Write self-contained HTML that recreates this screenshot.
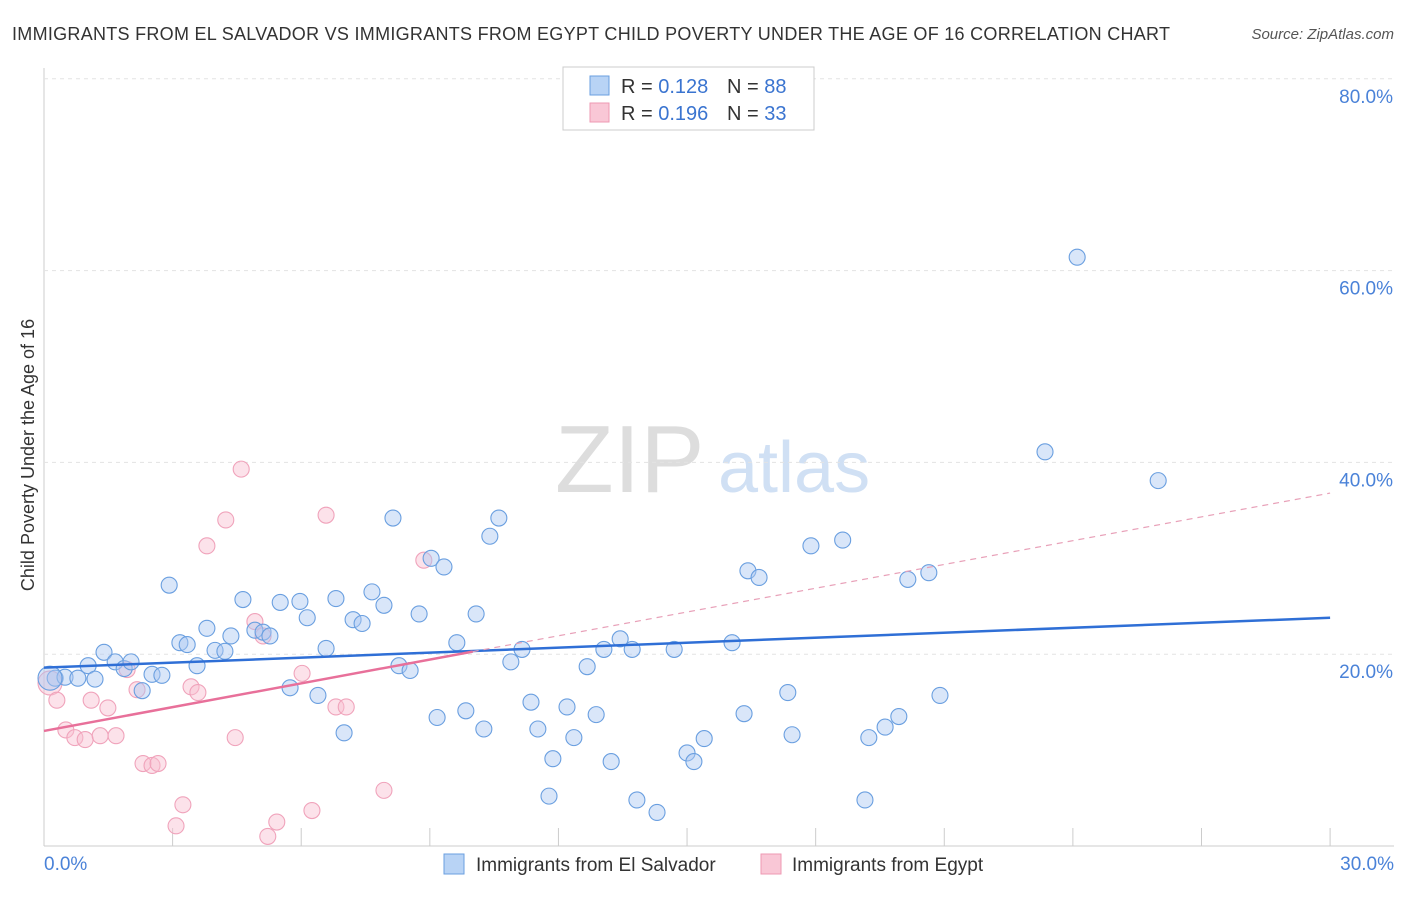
<!DOCTYPE html>
<html><head><meta charset="utf-8"><style>
body{margin:0;background:#fff;font-family:"Liberation Sans",sans-serif;}
svg text{font-family:"Liberation Sans",sans-serif;}
</style></head><body>
<svg id="c" width="1406" height="892" xmlns="http://www.w3.org/2000/svg">
<text x="12" y="40" font-size="18" fill="#333" textLength="1158" lengthAdjust="spacing">IMMIGRANTS FROM EL SALVADOR VS IMMIGRANTS FROM EGYPT CHILD POVERTY UNDER THE AGE OF 16 CORRELATION CHART</text>
<text x="1394" y="39" font-size="15" fill="#555" font-style="italic" text-anchor="end">Source: ZipAtlas.com</text>
<text x="34" y="455" font-size="18" fill="#333" transform="rotate(-90 34 455)" text-anchor="middle">Child Poverty Under the Age of 16</text>
<text x="555" y="492" font-size="96" fill="#ddd" font-family="Liberation Serif">ZIP</text>
<text x="718" y="492" font-size="72" fill="#d0e0f4">atlas</text>
<g id="grid"></g><g id="marks"></g>
<g>
<rect x="563" y="67" width="251" height="63" fill="#fff" stroke="#ccc"/>
<rect x="590" y="76" width="19" height="19" fill="#b8d3f5" stroke="#6a9fe0"/>
<rect x="590" y="103" width="19" height="19" fill="#f9c7d6" stroke="#ee99b3"/>
<text x="621" y="93" font-size="20" fill="#333">R = <tspan fill="#3a74d0">0.128</tspan></text>
<text x="727" y="93" font-size="20" fill="#333">N = <tspan fill="#3a74d0">88</tspan></text>
<text x="621" y="120" font-size="20" fill="#333">R = <tspan fill="#3a74d0">0.196</tspan></text>
<text x="727" y="120" font-size="20" fill="#333">N = <tspan fill="#3a74d0">33</tspan></text>
</g>
<g>
<rect x="444" y="854" width="20" height="20" fill="#b8d3f5" stroke="#6a9fe0"/>
<text x="476" y="871" font-size="19" fill="#333">Immigrants from El Salvador</text>
<rect x="761" y="854" width="20" height="20" fill="#f9c7d6" stroke="#ee99b3"/>
<text x="792" y="871" font-size="19" fill="#333">Immigrants from Egypt</text>
</g>
</svg>
<script>
const yTicks=[20,40,60,80];
const xTickLabels=["0.0%","30.0%"];
const blueX=[0.26,0.49,0.79,1.03,1.19,1.40,1.66,1.87,2.03,2.29,2.52,2.75,2.92,3.17,3.34,3.57,3.80,3.99,4.22,4.36,4.64,4.92,5.11,5.27,5.51,5.74,5.97,6.14,6.39,6.58,6.81,7.00,7.21,7.42,7.65,7.93,8.14,8.28,8.54,8.75,9.03,9.17,9.33,9.63,9.84,10.08,10.26,10.40,10.61,10.89,11.15,11.36,11.52,11.78,11.87,12.20,12.36,12.67,12.88,13.06,13.23,13.44,13.72,13.83,14.30,14.70,15.00,15.16,15.40,16.05,16.33,16.42,16.68,17.35,17.45,17.89,18.63,19.24,19.15,19.62,19.94,20.15,20.64,20.90,23.35,24.10,25.99,0.14];
const blueY=[17.5,17.6,17.5,18.8,17.4,20.2,19.2,18.5,19.2,16.2,17.9,17.8,27.2,21.2,21.0,18.8,22.7,20.4,20.3,21.9,25.7,22.5,22.3,21.9,25.4,16.5,25.5,23.8,15.7,20.6,25.8,11.8,23.6,23.2,26.5,25.1,34.2,18.8,18.3,24.2,30.0,13.4,29.1,21.2,14.1,24.2,12.2,32.3,34.2,19.2,20.5,15.0,12.2,5.2,9.1,14.5,11.3,18.7,13.7,20.5,8.8,21.6,20.5,4.8,3.5,20.5,9.7,8.8,11.2,21.2,13.8,28.7,28.0,16.0,11.6,31.3,31.9,11.3,4.8,12.4,13.5,27.8,28.5,15.7,41.1,61.4,38.1,17.5];
const pinkX=[0.14,0.30,0.51,0.72,0.96,1.10,1.31,1.49,1.68,1.94,2.17,2.31,2.52,2.66,3.08,3.24,3.43,3.59,3.80,4.24,4.46,4.60,4.92,5.11,5.22,5.43,6.02,6.25,6.58,6.81,7.05,7.93,8.86];
const pinkY=[17.0,15.2,12.1,11.3,11.1,15.2,11.5,14.4,11.5,18.4,16.3,8.6,8.4,8.6,2.1,4.3,16.6,16.0,31.3,34.0,11.3,39.3,23.4,21.9,1.0,2.5,18.0,3.7,34.5,14.5,14.5,5.8,29.8];
const blueFit=[18.6,23.8];
const pinkFit=[12.0,36.8];
const px=v=>44+v*42.87, py=v=>846-v*9.59;
const NS="http://www.w3.org/2000/svg";
function mk(t,a,p){const e=document.createElementNS(NS,t);for(const k in a)e.setAttribute(k,a[k]);p.appendChild(e);return e;}
const g=document.getElementById('grid'), m=document.getElementById('marks');
let ax=mk('line',{x1:44,y1:846,x2:1394,y2:846,stroke:'#ccc'},g);


let ay=mk('line',{x1:44,y1:68,x2:44,y2:846,stroke:'#ccc'},g);


for(let i=0;i<=10;i++){let t=mk('line',{x1:px(i*3),y1:828,x2:px(i*3),y2:846,stroke:'#ccc'},g);

}
yTicks.forEach(v=>{let l=mk('line',{x1:44,y1:py(v),x2:1394,y2:py(v),stroke:'#e3e3e3','stroke-dasharray':'4 4'},g);


let t=mk('text',{x:1393,y:py(v)+24,'font-size':19,fill:'#4a82d8','text-anchor':'end'},g);t.textContent=v.toFixed(1)+'%';

});
let xl=mk('text',{x:44,y:870,'font-size':19,fill:'#4a82d8'},g);xl.textContent=xTickLabels[0];


let xr=mk('text',{x:1394,y:870,'font-size':19,fill:'#4a82d8','text-anchor':'end'},g);xr.textContent=xTickLabels[1];


function pts(X,Y,fill,stroke,name){X.forEach((x,i)=>{const big=i===X.length-1&&name==='blue-point'||i===0&&name==='pink-point';
let c=mk('circle',{cx:px(x),cy:py(Y[i]),r:big?12:8,fill:fill,stroke:stroke,'stroke-width':1.1},m);

});}
pts(pinkX,pinkY,'rgba(249,190,208,0.45)','#f0a3bb','pink-point');
pts(blueX,blueY,'rgba(170,200,242,0.45)','#6a9fe0','blue-point');
let bl=mk('line',{x1:px(0),y1:py(blueFit[0]),x2:px(30),y2:py(blueFit[1]),stroke:'#2f6fd6','stroke-width':2.5},m);


const pAt=x=>pinkFit[0]+(pinkFit[1]-pinkFit[0])*x/30;
let pl=mk('line',{x1:px(0),y1:py(pAt(0)),x2:px(10),y2:py(pAt(10)),stroke:'#e8709a','stroke-width':2.5},m);


let pd=mk('line',{x1:px(10),y1:py(pAt(10)),x2:px(30),y2:py(pAt(30)),stroke:'#e8a0b8','stroke-width':1.2,'stroke-dasharray':'6 5'},m);


</script>
</body></html>
